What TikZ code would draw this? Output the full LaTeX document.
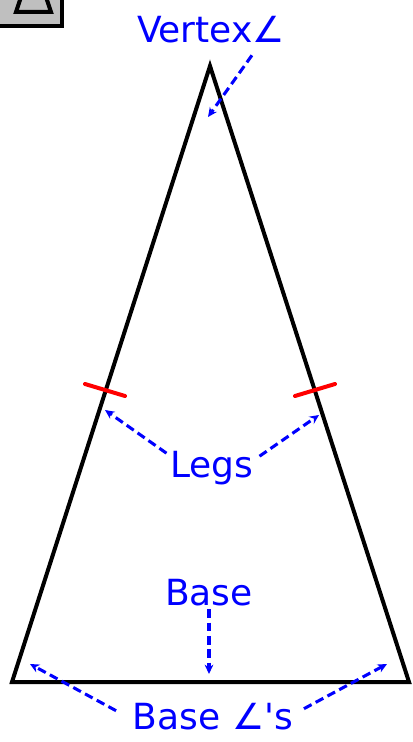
\documentclass[tikz,border=0pt]{standalone}
\font\lblfnt="DejaVu Sans" at 27pt
\usetikzlibrary{arrows.meta,calc}
\definecolor{lblblue}{RGB}{0,0,255}
\definecolor{tickred}{RGB}{255,0,0}
\begin{document}
\begin{tikzpicture}[x=.75pt,y=-.75pt,
  lbl/.style={text=lblblue,font=\lblfnt,inner sep=2pt},
  lblarrow/.style={lblblue,line width=2.3pt,dash pattern=on 6.5pt off 3.5pt,-{Stealth[length=7pt,width=6.5pt]}},
  tickmark/.style={tickred,line width=3pt,line cap=round}]
\useasboundingbox (0,0) rectangle (413,742);
% corner icon
\draw[line width=3pt,fill=gray!50] (-6,-6) rectangle (62,26);
\draw[line width=3pt,line join=miter] (22,-6)--(16,12)--(51,12)--(45,-6);
% triangle
\coordinate (A) at (210,66);\coordinate (B) at (12,682);\coordinate (C) at (409,682);
\draw[line width=3pt] (A)--(B)--(C)--cycle;
\draw[tickmark] (85,384)--(125,396);\draw[tickmark] (295,396)--(335,384);
% labels
\node[lbl] (vertexlbl) at (211,30) {Vertex∠};
\node[lbl] (legslbl) at (212,468) {Legs};
\node[lbl] (baselbl) at (209,593) {Base};
\node[lbl] (baseanglbl) at (213,717) {Base ∠'s};
\coordinate (vtx) at (208,117);\coordinate (legL) at (105,410);\coordinate (legR) at (319,415);
\coordinate (basemid) at (209,674);\coordinate (angL) at (30,664);\coordinate (angR) at (387,664);
\draw[lblarrow] ($(vertexlbl.south east)+(-36,9)$)--(vtx);
\draw[lblarrow] ($(legslbl.north west)+(-1,5)$)--(legL);
\draw[lblarrow] ($(legslbl.north east)+(3,8)$)--(legR);
\draw[lblarrow] (baselbl.south)--(basemid);
\draw[lblarrow] ($(baseanglbl.north west)+(-14,10)$)--(angL);
\draw[lblarrow] ($(baseanglbl.north east)+(8,8)$)--(angR);
\end{tikzpicture}
\end{document}
